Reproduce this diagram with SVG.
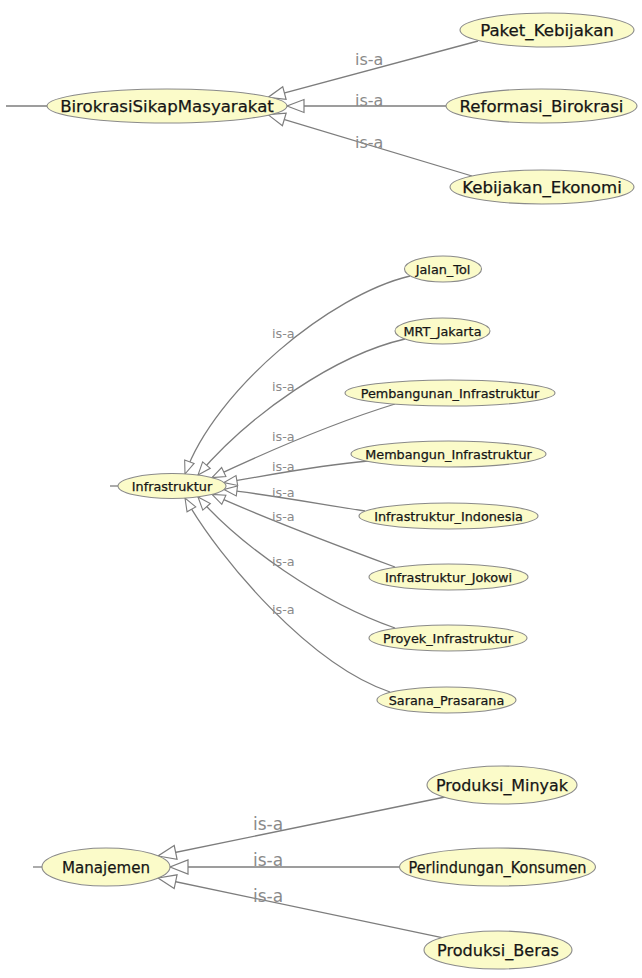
<svg xmlns="http://www.w3.org/2000/svg" width="642" height="978" viewBox="0 0 642 978">
  <style>
    .node ellipse { fill: #fbfbc9; stroke: #8a8a8a; stroke-width: 1.1; }
    .node text { font-family: "DejaVu Sans", "Liberation Sans", sans-serif; fill: #151515; stroke: #151515; stroke-width: 0.25; text-anchor: middle; dominant-baseline: central; }
    .edge { fill: none; stroke: #7d7d7d; stroke-width: 1.3; }
    .stub { stroke: #7d7d7d; stroke-width: 1.3; }
    .isa { font-family: "DejaVu Sans", "Liberation Sans", sans-serif; fill: #8a8a8a; }
    .top text { font-size: 16.6px; }
    .mid text { font-size: 12.8px; }
    .bot text { font-size: 16.5px; }
    .lg { marker-end: url(#arrow-lg); }
    .sm { marker-end: url(#arrow-sm); }
    .xl { marker-end: url(#arrow-xl); }
  </style>
  <defs>
    <marker id="arrow-lg" viewBox="-20 -9 22 18" refX="0" refY="0" markerWidth="22" markerHeight="18" markerUnits="userSpaceOnUse" orient="auto">
      <path d="M0,0 L-17,-6.5 L-17,6.5 Z" fill="#ffffff" stroke="#7d7d7d" stroke-width="1.2"/>
    </marker>
    <marker id="arrow-sm" viewBox="-16 -7 18 14" refX="0" refY="0" markerWidth="18" markerHeight="14" markerUnits="userSpaceOnUse" orient="auto">
      <path d="M0,0 L-13,-5 L-13,5 Z" fill="#ffffff" stroke="#7d7d7d" stroke-width="1.1"/>
    </marker>
    <marker id="arrow-xl" viewBox="-21 -10 23 20" refX="0" refY="0" markerWidth="23" markerHeight="20" markerUnits="userSpaceOnUse" orient="auto">
      <path d="M0,0 L-18,-7 L-18,7 Z" fill="#ffffff" stroke="#7d7d7d" stroke-width="1.2"/>
    </marker>
  </defs>

  <rect x="0" y="0" width="642" height="978" fill="#ffffff"/>

  <!-- subclass links (is-a) -->
  <g id="connectors">
    <!-- BirokrasiSikapMasyarakat cluster -->
    <line class="stub" x1="6" y1="106" x2="47" y2="106"/>
    <path class="edge lg" d="M478,41 L268,97.4"/>
    <path class="edge lg" d="M446,106 L287,106"/>
    <path class="edge lg" d="M472,176 L268,114.6"/>
    <text class="isa" x="355" y="65" font-size="16">is-a</text>
    <text class="isa" x="355" y="106" font-size="16">is-a</text>
    <text class="isa" x="355" y="148" font-size="16">is-a</text>

    <!-- Infrastruktur cluster -->
    <line class="stub" x1="110" y1="486" x2="118" y2="486"/>
    <path class="edge sm" d="M410,276 C330,295 215,390 185,474"/>
    <path class="edge sm" d="M405,339 C335,355 250,414 198,475"/>
    <path class="edge sm" d="M395,404 C330,424 260,455 212,477.6"/>
    <path class="edge sm" d="M368,461 C320,465 270,475 224,482.6"/>
    <path class="edge sm" d="M365,511 C320,504 270,495 224,489.4"/>
    <path class="edge sm" d="M395,567 C330,543 260,516 212,494.4"/>
    <path class="edge sm" d="M395,628 C320,602 240,545 198,497"/>
    <path class="edge sm" d="M390,692 C310,665 220,560 185,498"/>
    <text class="isa" x="272" y="338" font-size="12.8">is-a</text>
    <text class="isa" x="272" y="391" font-size="12.8">is-a</text>
    <text class="isa" x="272" y="441" font-size="12.8">is-a</text>
    <text class="isa" x="272" y="471" font-size="12.8">is-a</text>
    <text class="isa" x="272" y="497" font-size="12.8">is-a</text>
    <text class="isa" x="272" y="521" font-size="12.8">is-a</text>
    <text class="isa" x="272" y="566" font-size="12.8">is-a</text>
    <text class="isa" x="272" y="614" font-size="12.8">is-a</text>

    <!-- Manajemen cluster -->
    <line class="stub" x1="33" y1="867" x2="42" y2="867"/>
    <path class="edge xl" d="M445,797 L158,856"/>
    <path class="edge xl" d="M399.5,867 L170,867"/>
    <path class="edge xl" d="M442,937.6 L158,878"/>
    <text class="isa" x="253" y="830" font-size="17">is-a</text>
    <text class="isa" x="253" y="866" font-size="17">is-a</text>
    <text class="isa" x="253" y="902" font-size="17">is-a</text>
  </g>

  <!-- classes -->
  <g class="top">
    <g id="BirokrasiSikapMasyarakat" class="node"><ellipse cx="167" cy="106" rx="120" ry="17"/><text x="167" y="106">BirokrasiSikapMasyarakat</text></g>
    <g id="Paket_Kebijakan" class="node"><ellipse cx="547" cy="30" rx="87" ry="17"/><text x="547" y="30">Paket_Kebijakan</text></g>
    <g id="Reformasi_Birokrasi" class="node"><ellipse cx="541.5" cy="106" rx="95.5" ry="17"/><text x="541.5" y="106">Reformasi_Birokrasi</text></g>
    <g id="Kebijakan_Ekonomi" class="node"><ellipse cx="542" cy="187" rx="92" ry="17"/><text x="542" y="187">Kebijakan_Ekonomi</text></g>
  </g>

  <g class="mid">
    <g id="Infrastruktur" class="node"><ellipse cx="172" cy="486" rx="54" ry="12.5"/><text x="172" y="486">Infrastruktur</text></g>
    <g id="Jalan_Tol" class="node"><ellipse cx="443" cy="269" rx="38.5" ry="13"/><text x="443" y="269">Jalan_Tol</text></g>
    <g id="MRT_Jakarta" class="node"><ellipse cx="442.5" cy="331" rx="47.5" ry="13"/><text x="442.5" y="331">MRT_Jakarta</text></g>
    <g id="Pembangunan_Infrastruktur" class="node"><ellipse cx="450" cy="393" rx="105" ry="13"/><text x="450" y="393">Pembangunan_Infrastruktur</text></g>
    <g id="Membangun_Infrastruktur" class="node"><ellipse cx="448.5" cy="454" rx="97.5" ry="13"/><text x="448.5" y="454">Membangun_Infrastruktur</text></g>
    <g id="Infrastruktur_Indonesia" class="node"><ellipse cx="448.5" cy="516" rx="89.5" ry="13"/><text x="448.5" y="516">Infrastruktur_Indonesia</text></g>
    <g id="Infrastruktur_Jokowi" class="node"><ellipse cx="448.5" cy="577" rx="79.5" ry="13"/><text x="448.5" y="577">Infrastruktur_Jokowi</text></g>
    <g id="Proyek_Infrastruktur" class="node"><ellipse cx="448" cy="638" rx="79" ry="13"/><text x="448" y="638">Proyek_Infrastruktur</text></g>
    <g id="Sarana_Prasarana" class="node"><ellipse cx="446.5" cy="700" rx="69.5" ry="13"/><text x="446.5" y="700">Sarana_Prasarana</text></g>
  </g>

  <g class="bot">
    <g id="Manajemen" class="node"><ellipse cx="106" cy="867" rx="64" ry="19"/><text x="106" y="867" textLength="88" lengthAdjust="spacingAndGlyphs">Manajemen</text></g>
    <g id="Produksi_Minyak" class="node"><ellipse cx="502" cy="785" rx="75" ry="19"/><text x="502" y="785" textLength="132" lengthAdjust="spacingAndGlyphs">Produksi_Minyak</text></g>
    <g id="Perlindungan_Konsumen" class="node"><ellipse cx="497.5" cy="867" rx="98" ry="19"/><text x="497.5" y="867" textLength="178" lengthAdjust="spacingAndGlyphs">Perlindungan_Konsumen</text></g>
    <g id="Produksi_Beras" class="node"><ellipse cx="498" cy="950" rx="74" ry="19"/><text x="498" y="950" textLength="122" lengthAdjust="spacingAndGlyphs">Produksi_Beras</text></g>
  </g>
</svg>
